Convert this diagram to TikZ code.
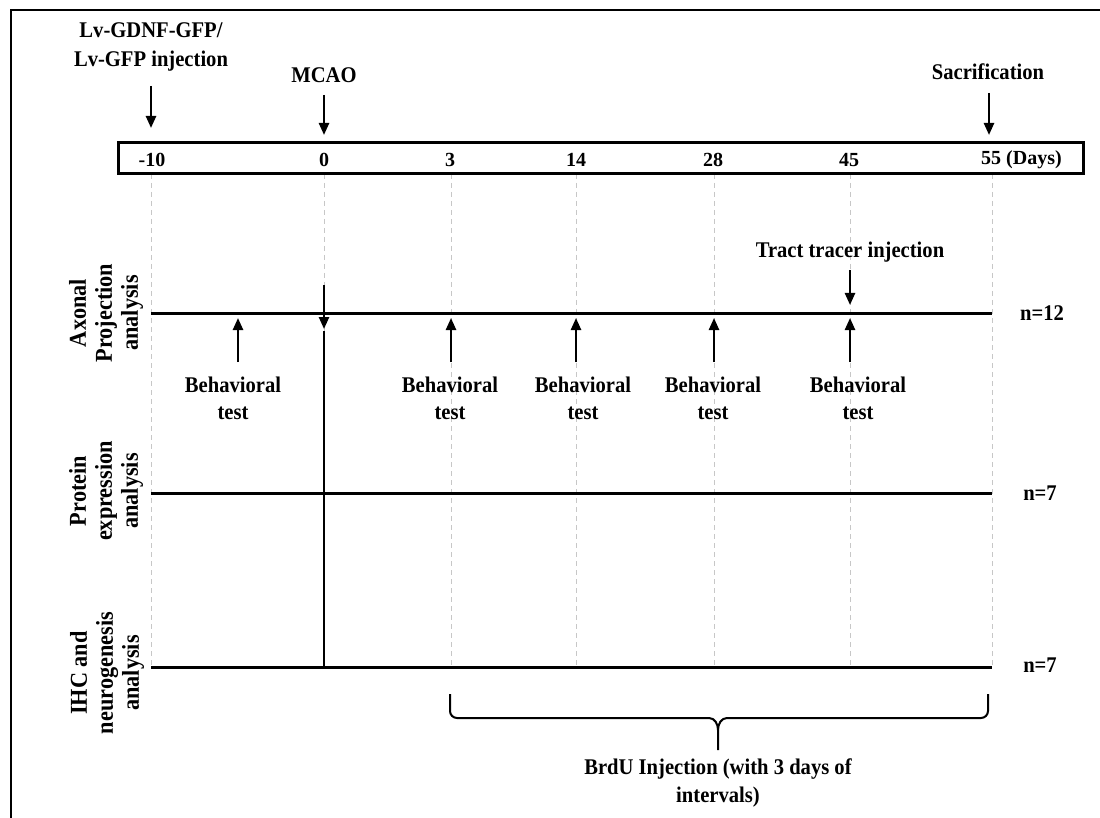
\documentclass[tikz,border=0pt]{standalone}
\usepackage{fontspec}
\setmainfont{Liberation Serif}[FakeStretch=0.92]
\newfontfamily\numfont{Liberation Serif}
\usetikzlibrary{arrows.meta}
\begin{document}
\begin{tikzpicture}[x=1pt,y=-1pt,
  lbl/.style={font=\bfseries\fontsize{22.4}{27}\selectfont, inner sep=0pt, align=center},
  rowlbl/.style={font=\bfseries\fontsize{24.2}{26}\selectfont, inner sep=0pt, align=center, rotate=90},
  num/.style={font=\numfont\bfseries\fontsize{20}{23}\selectfont, inner sep=0pt},
  darrow/.style={line width=2.4pt, -{Triangle[width=10pt,length=12pt]}},
  rowline/.style={line width=3pt},
  guide/.style={draw=black!22, line width=0.9pt, dash pattern=on 5pt off 4pt},
  frame/.style={line width=2pt}]
\useasboundingbox (0,0) rectangle (1100,818);
% outer frame
\coordinate (fbl) at (11,818);
\coordinate (ftl) at (11,10);
\coordinate (ftr) at (1100,10);
\draw[frame] (fbl) -- (ftl) -- (ftr);
% tick coordinates
\foreach \n/\x in {m10/151, d0/324, d3/451, d14/576, d28/714, d45/850, d55/992}{
  \coordinate (top\n) at (\x,174);
  \coordinate (bot\n) at (\x,667);
}
% dashed guides
\foreach \n in {m10,d0,d3,d14,d28,d45,d55}{
  \draw[guide] (top\n) -- (bot\n);
}
% timeline box
\node[draw, line width=3pt, minimum width=965pt, minimum height=31pt, inner sep=0pt] (box) at (600.5,158.5) {};
\node[num] (nm10) at (152,160) {-10};
\node[num] (n0) at (324,160) {0};
\node[num] (n3) at (450,160) {3};
\node[num] (n14) at (576,160) {14};
\node[num] (n28) at (713,160) {28};
\node[num] (n45) at (849,160) {45};
\node[num, anchor=west] (n55) at (981,160) {55 (Days)};
% top labels and arrows
\node[lbl, font=\bfseries\fontsize{22.4}{29}\selectfont] (inj) at (151,47) {Lv-GDNF-GFP/\\Lv-GFP injection};
\coordinate (injA) at (151,86);
\coordinate (injB) at (151,128);
\draw[darrow] (injA) -- (injB);
\node[lbl] (mcao) at (324,75) {MCAO};
\coordinate (mcaoA) at (324,95);
\coordinate (mcaoB) at (324,135);
\draw[darrow] (mcaoA) -- (mcaoB);
\node[lbl] (sac) at (988,72) {Sacrification};
\coordinate (sacA) at (989,93);
\coordinate (sacB) at (989,135);
\draw[darrow] (sacA) -- (sacB);
% rows
\coordinate (r1L) at (151,313); \coordinate (r1R) at (992,313);
\coordinate (r2L) at (151,493); \coordinate (r2R) at (992,493);
\coordinate (r3L) at (151,667); \coordinate (r3R) at (992,667);
\draw[rowline] (r1L) -- (r1R);
\draw[rowline] (r2L) -- (r2R);
\draw[rowline] (r3L) -- (r3R);
\node[rowlbl] (row1) at (106,313) {Axonal\\Projection\\analysis};
\node[rowlbl] (row2) at (106,491) {Protein\\expression\\analysis};
\node[rowlbl] (row3) at (107,673) {IHC and\\neurogenesis\\analysis};
\node[lbl] (nA) at (1042,313) {n=12};
\node[lbl] (nB) at (1040,493) {n=7};
\node[lbl] (nC) at (1040,665) {n=7};
% MCAO on axonal row and vertical line
\coordinate (mA) at (324,285);
\coordinate (mB) at (324,329);
\coordinate (mC) at (324,331);
\draw[darrow] (mA) -- (mB);
\draw[line width=2.4pt] (mC) -- (botd0);
% tract tracer
\node[lbl] (tract) at (850,252) {Tract tracer injection};
\coordinate (tA) at (850,270);
\coordinate (tB) at (850,305);
\draw[darrow] (tA) -- (tB);
% behavioral tests
\foreach \i/\x/\lx in {1/238/233, 2/451/450, 3/576/583, 4/714/713, 5/850/858}{
  \coordinate (bA\i) at (\x,362);
  \coordinate (bB\i) at (\x,318);
  \draw[darrow] (bA\i) -- (bB\i);
  \node[lbl] (bt\i) at (\lx,398) {Behavioral\\test};
}
% brace
\coordinate (brL) at (450,694);
\coordinate (brR) at (988,694);
\coordinate (brMid) at (718,730);
\coordinate (brTip) at (718,750);
\draw[line width=2pt, line join=round]
  (brL) -- (450,711) to[out=-90,in=180] (457,718) -- (709,718)
  to[out=0,in=90] (brMid) -- (brTip);
\draw[line width=2pt, line join=round]
  (brR) -- (988,711) to[out=-90,in=0] (981,718) -- (727,718)
  to[out=180,in=90] (brMid);
\node[lbl, font=\bfseries\fontsize{22.4}{28}\selectfont] (brdu) at (718,783) {BrdU Injection (with 3 days of\\intervals)};
\end{tikzpicture}
\end{document}
